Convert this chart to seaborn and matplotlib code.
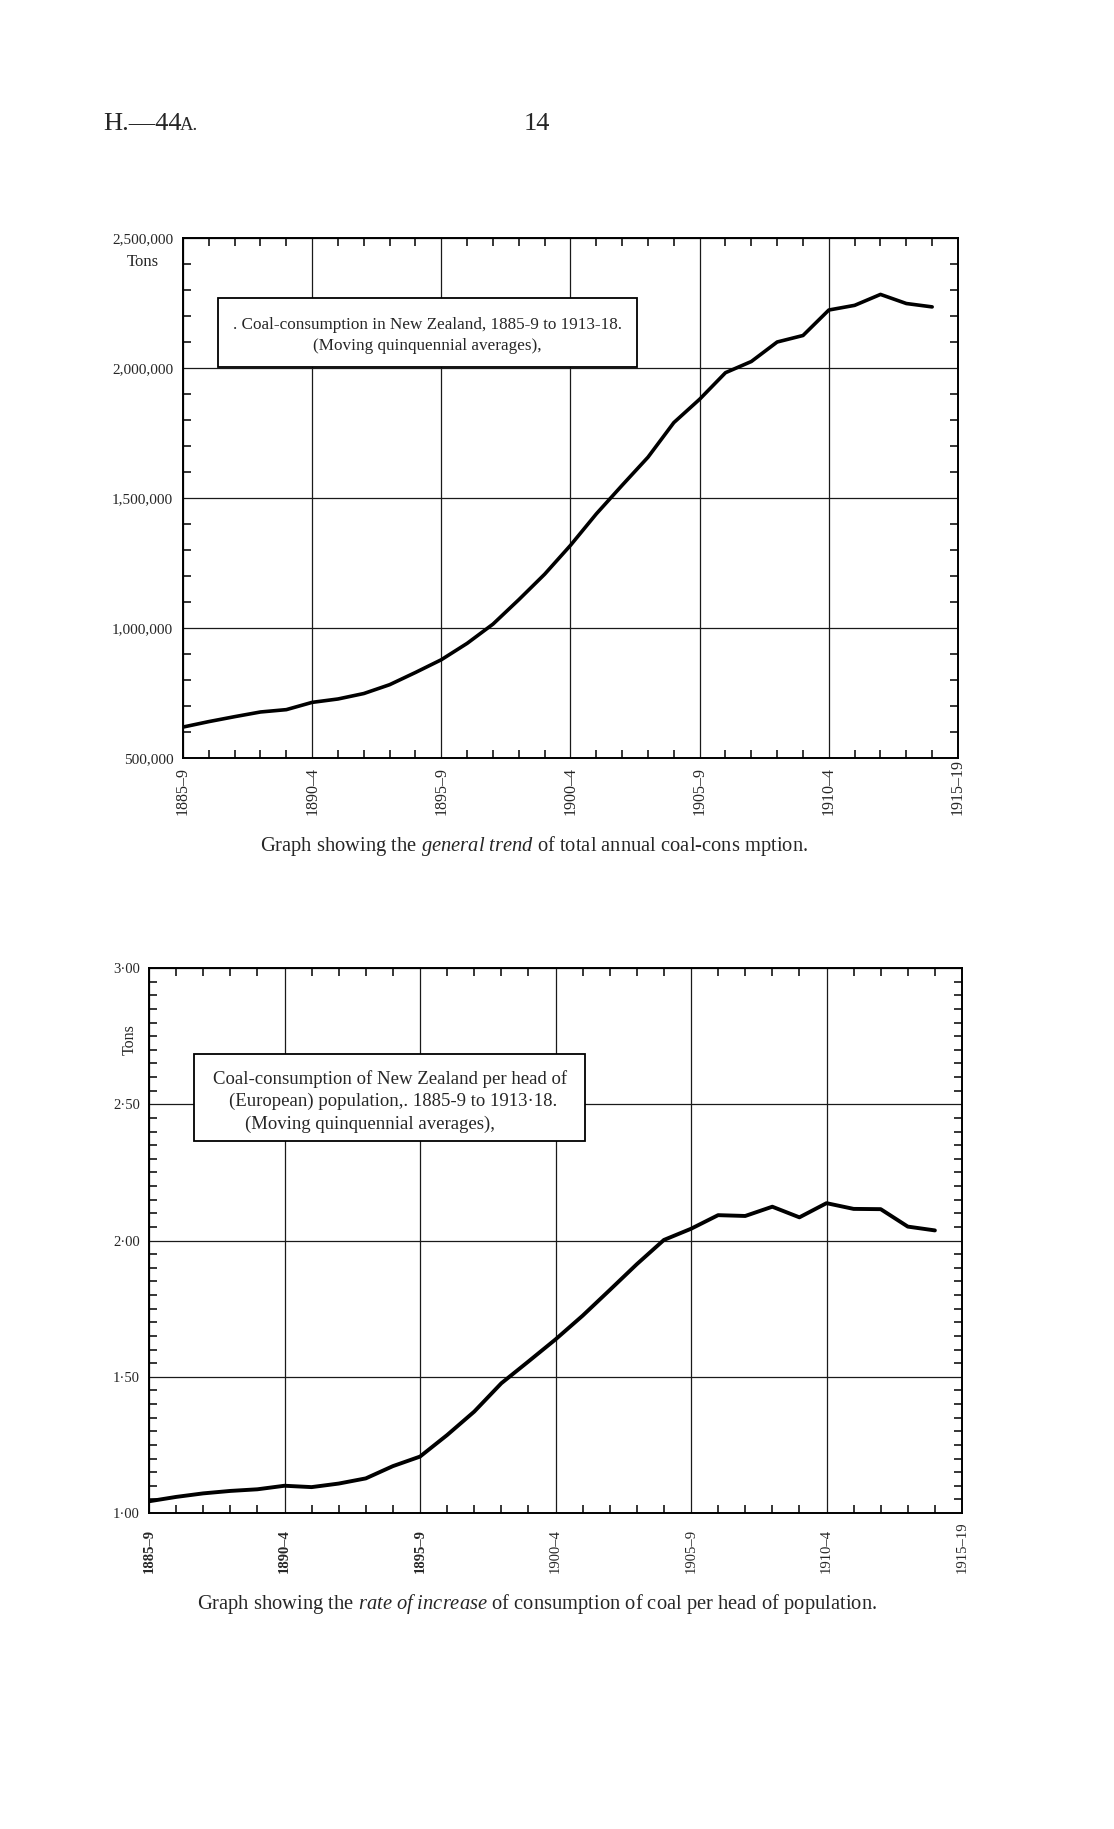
#!/usr/bin/env python3
# -*- coding: utf-8 -*-
"""Coal consumption in New Zealand, 1885-9 to 1913-18 (moving averages)."""

import matplotlib
matplotlib.use('Agg')
import matplotlib.pyplot as plt
import seaborn as sns
from matplotlib.ticker import MultipleLocator
from matplotlib.patches import Rectangle

# Data (one point per year, 5-year moving avg).
years = list(range(1885, 1915))
tons_total = [619000, 640000, 659000, 677000, 686000, 714000, 727000,
              748000, 782000, 829000, 878000, 941000, 1015000, 1109000,
              1207000, 1318000, 1439000, 1549000, 1657000, 1790000,
              1880000, 1982000, 2025000, 2100000, 2125000, 2223000,
              2241000, 2283000, 2248000, 2235000]
tons_per_head = [1.043, 1.059, 1.072, 1.081, 1.087, 1.100, 1.095, 1.108,
                 1.127, 1.172, 1.207, 1.286, 1.372, 1.476, 1.556, 1.637,
                 1.724, 1.818, 1.913, 2.002, 2.043, 2.093, 2.090, 2.124,
                 2.085, 2.137, 2.116, 2.115, 2.051, 2.037]

period_ticks = [1885, 1890, 1895, 1900, 1905, 1910, 1915]
period_labels = ['1885–9', '1890–4', '1895–9', '1900–4', '1905–9',
                 '1910–4', '1915–19']
total_ticks = [500000, 1000000, 1500000, 2000000, 2500000]
total_labels = ['500,000', '1,000,000', '1,500,000', '2,000,000',
                '2,500,000']
head_ticks = [1.0, 1.5, 2.0, 2.5, 3.0]
head_labels = ['1·00', '1·50', '2·00', '2·50', '3·00']

W, H = 1114, 1829
SERIF = ['Liberation Serif', 'DejaVu Serif']

sns.set_style('white')
plt.rcParams['font.family'] = SERIF
plt.rcParams['mathtext.fontset'] = 'custom'
plt.rcParams['mathtext.rm'] = 'Liberation Serif'
plt.rcParams['mathtext.it'] = 'Liberation Serif:italic'


def rect(x0, y0, x1, y1):
    """Pixel box (top-left origin) -> figure fraction [l, b, w, h]."""
    return [x0 / W, 1 - y1 / H, (x1 - x0) / W, (y1 - y0) / H]


def style_axes(ax, yticks, ylabels, yminor, lsize, ysize, xpad, ypad):
    """Grid, inward minor ticks and tick labels like the printed sheet."""
    ax.set_xlim(period_ticks[0], period_ticks[-1])
    ax.set_ylim(yticks[0], yticks[-1])
    ax.set_xticks(period_ticks, period_labels)
    ax.set_yticks(yticks, ylabels)
    ax.xaxis.set_minor_locator(MultipleLocator(1))
    ax.yaxis.set_minor_locator(MultipleLocator(yminor))
    ax.grid(True, which='major', color='#1a1a1a', lw=0.9)
    ax.tick_params(which='major', length=0)
    ax.tick_params(axis='x', which='major', pad=xpad)
    ax.tick_params(axis='y', which='major', pad=ypad, labelsize=ysize)
    ax.tick_params(which='minor', direction='in', length=6, width=1.1,
                   color='black', top=True, bottom=True, left=True,
                   right=True)
    for lab in ax.get_xticklabels():
        lab.set_rotation(90)
        lab.set_rotation_mode('anchor')
        lab.set_ha('left')
        lab.set_va('center')
        lab.set_fontsize(lsize)
    for s in ax.spines.values():
        s.set_visible(True)
        s.set_color('black')
        s.set_linewidth(1.4)
    ax.set_xlabel('')
    ax.set_ylabel('')


fig = plt.figure(figsize=(W / 100, H / 100), dpi=100)
fig.patch.set_facecolor('white')

# Page header.
fig.text(103 / W, 1 - 130 / H, 'H.—44', fontsize=19, va='baseline')
fig.text(180 / W, 1 - 130 / H, 'A.', fontsize=13.5, va='baseline')
fig.text(537 / W, 1 - 130 / H, '14', fontsize=19, ha='center',
         va='baseline')

# Upper graph: total consumption.
ax1 = fig.add_axes(rect(183, 238, 958, 758))
sns.lineplot(x=years, y=tons_total, ax=ax1, color='black', lw=2.6,
             zorder=5)
style_axes(ax1, total_ticks, total_labels, 100000, 11.5, 11, 41, 7)
ax1.add_patch(Rectangle((0.045, 0.752), 0.541, 0.133,
                        transform=ax1.transAxes, facecolor='white',
                        edgecolor='black', lw=1.3, zorder=3))
ax1.text(0.3155, 0.833, '. Coal-consumption in New Zealand, 1885-9 '
         'to 1913-18.', transform=ax1.transAxes, ha='center',
         va='center', fontsize=12.3, zorder=4)
ax1.text(0.3155, 0.792, '(Moving quinquennial averages),',
         transform=ax1.transAxes, ha='center', va='center', fontsize=12.3,
         zorder=4)
fig.text(143 / W, 1 - 262 / H, 'Tons', fontsize=12, ha='center',
         va='center')
fig.text(534 / W, 1 - 846 / H,
         r'Graph showing the $\mathit{general\ trend}$ of total annual '
         'coal-cons mption.', fontsize=14.8, ha='center', va='center')

# Lower graph: consumption per head.
ax2 = fig.add_axes(rect(149, 968, 962, 1513))
sns.lineplot(x=years, y=tons_per_head, ax=ax2, color='black', lw=2.8,
             zorder=5)
style_axes(ax2, head_ticks, head_labels, 0.05, 10.5, 10.5, 43, 6.5)
for lab in ax2.get_xticklabels()[:3]:
    lab.set_fontweight('bold')
ax2.add_patch(Rectangle((0.0554, 0.6826), 0.481, 0.1596,
                        transform=ax2.transAxes, facecolor='white',
                        edgecolor='black', lw=1.3, zorder=3))
box_lines = ['Coal-consumption of New Zealand per head of',
             '(European) population,. 1885-9 to 1913·18.',
             '(Moving quinquennial averages),']
box_centres = [0.296, 0.300, 0.272]
for i, line in enumerate(box_lines):
    ax2.text(box_centres[i], 0.796 - i * 0.041, line,
             transform=ax2.transAxes, ha='center', va='center',
             fontsize=13.5, zorder=4)
fig.text(130 / W, 1 - 1040 / H, 'Tons', fontsize=11.5, rotation=90,
         ha='center', va='center')
fig.text(537 / W, 1 - 1604 / H,
         r'Graph showing the $\mathit{rate\ of\ increase}$ of consumption '
         'of coal per head of population.', fontsize=14.8, ha='center',
         va='center')

plt.savefig('out.png', dpi=100, facecolor='white')
